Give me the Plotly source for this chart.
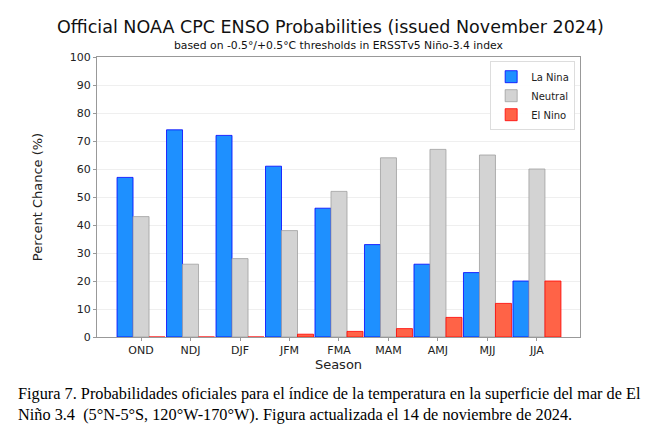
import plotly.graph_objects as go

seasons = ["OND", "NDJ", "DJF", "JFM", "FMA", "MAM", "AMJ", "MJJ", "JJA"]
la_nina = [57, 74, 72, 61, 46, 33, 26, 23, 20]
neutral = [43, 26, 28, 38, 52, 64, 67, 65, 60]
el_nino = [0, 0, 0, 1, 2, 3, 7, 12, 20]

fig = go.Figure()
fig.add_trace(go.Bar(x=seasons, y=la_nina, name="La Nina",
                     marker=dict(color="#1E90FF", line=dict(color="#0000FF", width=0.8))))
fig.add_trace(go.Bar(x=seasons, y=neutral, name="Neutral",
                     marker=dict(color="#D3D3D3", line=dict(color="#A0A0A0", width=0.8))))
fig.add_trace(go.Bar(x=seasons, y=el_nino, name="El Nino",
                     marker=dict(color="#FF6347", line=dict(color="#FF0000", width=0.8))))

fig.update_layout(
    width=661, height=440,
    margin=dict(l=97, r=81, t=57, b=103),
    paper_bgcolor="white", plot_bgcolor="white",
    barmode="group", bargap=0.03, bargroupgap=0,
    font=dict(family="DejaVu Sans", size=11, color="#222222"),
    showlegend=True,
    legend=dict(x=0.99, y=0.985, xanchor="right", yanchor="top",
                bgcolor="rgba(255,255,255,0.9)", bordercolor="#DDDDDD", borderwidth=1,
                font=dict(size=10), tracegroupgap=0, itemwidth=30),
    title=dict(text="Official NOAA CPC ENSO Probabilities (issued November 2024)",
               x=0.5, xanchor="center", y=0.94, yanchor="middle",
               font=dict(size=17.5, color="#111111")),
)
fig.update_xaxes(range=[-0.89, 8.87], showline=True, linecolor="#999999", linewidth=1,
                 mirror=True, ticks="outside", tickcolor="#999999", ticklen=3,
                 showgrid=False, title=dict(text="Season", font=dict(size=13), standoff=0),
                 tickfont=dict(size=11))
fig.update_yaxes(range=[0, 100], dtick=10, showline=True, linecolor="#999999", linewidth=1,
                 mirror=True, ticks="outside", tickcolor="#999999", ticklen=3,
                 showgrid=True, gridcolor="#EFEFEF", gridwidth=1, zeroline=False,
                 title=dict(text="Percent Chance (%)", font=dict(size=13), standoff=24),
                 tickfont=dict(size=11))

fig.add_annotation(text="based on -0.5°/+0.5°C thresholds in ERSSTv5 Niño-3.4 index",
                   xref="paper", yref="paper", x=0.5, y=1.0, yshift=3,
                   xanchor="center", yanchor="bottom", showarrow=False,
                   font=dict(size=10.8, color="#111111"))

fig.add_annotation(text="Figura 7. Probabilidades oficiales para el índice de la temperatura en la superficie del mar de El<br>"
                        "Niño 3.4  (5°N-5°S, 120°W-170°W). Figura actualizada el 14 de noviembre de 2024.",
                   xref="paper", yref="paper", x=(16 - 97) / 483, y=-(382 - 337) / 280,
                   xanchor="left", yanchor="top", align="left", showarrow=False,
                   font=dict(family="Liberation Serif", size=16.3, color="#000000"))

fig.write_html("out.html")
